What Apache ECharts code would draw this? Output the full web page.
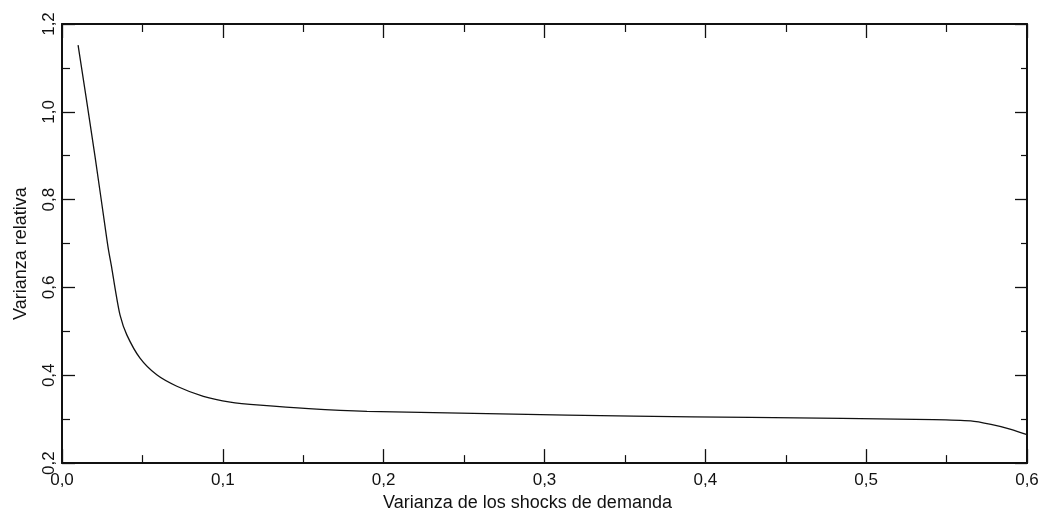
<!DOCTYPE html>
<html>
<head>
<meta charset="utf-8">
<script src="https://cdn.jsdelivr.net/npm/echarts@6/dist/echarts.min.js"></script>
<style>
  html, body { margin: 0; padding: 0; background: #fff; }
  #chart { width: 1046px; height: 517px; }
</style>
</head>
<body>
<div id="chart"></div>
<script>
// Variance of demand shocks (x) against relative variance (y)
const shockVariance = [
  0.010, 0.0149, 0.0205, 0.0268, 0.0288, 0.031, 0.033, 0.0361, 0.0403, 0.0485,
  0.0589, 0.0714, 0.0879, 0.1046, 0.1232, 0.1533, 0.1896, 0.2726, 0.3556, 0.428,
  0.542, 0.565, 0.5776, 0.590, 0.600
];
const relativeVariance = [
  1.152, 1.035, 0.899, 0.738, 0.688, 0.643, 0.598, 0.537, 0.492, 0.439,
  0.401, 0.375, 0.352, 0.339, 0.332, 0.324, 0.318, 0.312, 0.307, 0.304,
  0.299, 0.296, 0.288, 0.277, 0.265
];
const xTicks = { min: 0, max: 0.6, step: 0.1 };
const yTicks = { min: 0.2, max: 1.2, step: 0.2 };
const xTitle = 'Varianza de los shocks de demanda';
const yTitle = 'Varianza relativa';

const ink = '#111';
const font = "'Liberation Sans', Arial, Helvetica, sans-serif";
const comma = v => v.toFixed(1).replace('.', ',');

function frameAxis(extra, ticks, majorLen, minorLen) {
  return Object.assign({
    type: 'value',
    min: ticks.min,
    max: ticks.max,
    interval: ticks.step,
    axisLine: { show: true, onZero: false, lineStyle: { color: ink, width: 2 } },
    axisTick: { show: true, inside: true, length: majorLen, lineStyle: { color: ink, width: 1.3 } },
    minorTick: { show: true, splitNumber: 2, length: minorLen, lineStyle: { color: ink, width: 1.2 } },
    splitLine: { show: false },
    minorSplitLine: { show: false },
    axisLabel: { show: false }
  }, extra);
}

const chart = echarts.init(document.getElementById('chart'), null, { renderer: 'canvas' });
chart.setOption({
  animation: false,
  backgroundColor: '#fff',
  textStyle: { fontFamily: font },
  grid: { left: 62, right: 19, top: 24, bottom: 52, containLabel: false },
  xAxis: [
    frameAxis({
      position: 'bottom',
      name: xTitle,
      nameLocation: 'middle',
      nameGap: 17,
      nameTextStyle: { color: ink, fontSize: 18, fontFamily: font, padding: [0, 34, 0, 0] },
      axisLabel: { show: true, color: ink, fontSize: 17, fontFamily: font, margin: 9, formatter: comma }
    }, xTicks, 14, 8),
    frameAxis({ position: 'top' }, xTicks, 14, 8)
  ],
  yAxis: [
    frameAxis({
      position: 'left',
      name: yTitle,
      nameLocation: 'middle',
      nameGap: 32,
      nameRotate: 90,
      nameTextStyle: { color: ink, fontSize: 18, fontFamily: font, padding: [0, 20, 0, 0] },
      axisLabel: { show: true, color: ink, fontSize: 17, fontFamily: font, margin: 4, rotate: 90, formatter: comma }
    }, yTicks, 13, 8),
    frameAxis({ position: 'right' }, yTicks, 12, 6)
  ],
  series: [{
    type: 'line',
    xAxisIndex: 0,
    yAxisIndex: 0,
    data: shockVariance.map((x, i) => [x, relativeVariance[i]]),
    showSymbol: false,
    smooth: 0.25,
    lineStyle: { color: ink, width: 1.3 }
  }]
});
</script>
</body>
</html>
